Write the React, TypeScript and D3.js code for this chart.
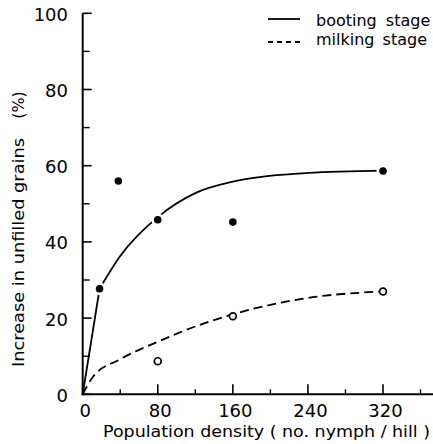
import React from "react";
import * as d3 from "d3";

const xTicksMajor = [0, 80, 160, 240, 320];
const xTicksMinor = [40, 120, 200, 280, 360];
const yTicksMajor = [0, 20, 40, 60, 80, 100];
const yTicksMinor = [10, 30, 50, 70, 90];

// observed points
const bootingX = [18, 38, 80, 160, 320];
const bootingY = [27.7, 56, 45.8, 45.2, 58.6];
const milkingX = [80, 160, 320];
const milkingY = [8.7, 20.5, 27];

// hand-fitted curves
const bootingRiseX = [0, 18];
const bootingRiseY = [0, 27.7];
const bootingFitX = [18, 40, 80, 120, 160, 240, 320];
const bootingFitY = [27.7, 36.3, 46.5, 52.8, 55.8, 58.1, 58.7];
const milkingFitX = [0, 11, 40, 80, 120, 160, 240, 320];
const milkingFitY = [0, 4.6, 9.2, 13.8, 17.8, 21, 25.3, 27];

const legendLabels = ["booting stage", "milking stage"];

const FONT = "'DejaVu Sans', sans-serif";

export default function App() {
  const x = d3.scaleLinear().domain([0, 320]).range([82.7, 383]);
  const y = d3.scaleLinear().domain([0, 100]).range([394.3, 13.3]);

  const line = d3
    .line<[number, number]>()
    .x((d) => x(d[0]))
    .y((d) => y(d[1]))
    .curve(d3.curveMonotoneX);
  const straight = d3
    .line<[number, number]>()
    .x((d) => x(d[0]))
    .y((d) => y(d[1]));

  const zip = (a: number[], b: number[]) => a.map((v, i) => [v, b[i]] as [number, number]);
  const risePath = straight(zip(bootingRiseX, bootingRiseY)) || "";
  const bootingPath = line(zip(bootingFitX, bootingFitY)) || "";
  const milkingPath = line(zip(milkingFitX, milkingFitY)) || "";

  const x0 = x(0);
  const y0 = y(0);

  return (
    <svg
      width={433}
      height={444}
      style={{ position: "absolute", left: 0, top: 0, background: "#fff" }}
      fontFamily={FONT}
    >
      <rect x={0} y={0} width={433} height={444} fill="#fff" />
      {/* axes */}
      <line x1={x0} y1={y(100)} x2={x0} y2={y0 + 1} stroke="#000" strokeWidth={2} />
      <line x1={x0 - 1} y1={y0} x2={433} y2={y0} stroke="#000" strokeWidth={2} />
      {yTicksMajor.map((t) => (
        <line key={"ym" + t} x1={x0} x2={x0 + 9} y1={y(t)} y2={y(t)} stroke="#000" strokeWidth={1.6} />
      ))}
      {yTicksMinor.map((t) => (
        <line key={"yn" + t} x1={x0} x2={x0 + 7} y1={y(t)} y2={y(t)} stroke="#000" strokeWidth={1.4} />
      ))}
      {xTicksMajor.map((t) => (
        <line key={"xm" + t} x1={x(t)} x2={x(t)} y1={y0} y2={y0 - 10} stroke="#000" strokeWidth={1.6} />
      ))}
      {xTicksMinor.map((t) => (
        <line key={"xn" + t} x1={x(t)} x2={x(t)} y1={y0} y2={y0 - 5} stroke="#000" strokeWidth={1.4} />
      ))}
      {yTicksMajor.map((t) => (
        <text key={"yl" + t} x={68} y={y(t) + 1} dy="0.36em" textAnchor="end" fontSize={18}>
          {t}
        </text>
      ))}
      {xTicksMajor.map((t) => (
        <text key={"xl" + t} x={x(t) + 2.5} y={417} textAnchor="middle" fontSize={18}>
          {t}
        </text>
      ))}
      <text x={103} y={437} fontSize={16} textLength={327} lengthAdjust="spacingAndGlyphs">
        Population density ( no. nymph / hill )
      </text>
      <g transform="translate(24,367) rotate(-90)">
        <text x={0} y={0} fontSize={16} textLength={229} lengthAdjust="spacingAndGlyphs">
          Increase in unfilled grains
        </text>
      </g>
      <g transform="translate(24,105) rotate(-90)">
        <text x={0} y={0} fontSize={16} textAnchor="middle">
          (%)
        </text>
      </g>

      {/* curves */}
      <path d={risePath} fill="none" stroke="#000" strokeWidth={1.8} />
      <path d={bootingPath} fill="none" stroke="#000" strokeWidth={1.8} />
      <path d={milkingPath} fill="none" stroke="#000" strokeWidth={1.8} strokeDasharray="9,5" />

      {/* markers */}
      {bootingX.map((v, i) => (
        <g key={"b" + i}>
          <circle cx={x(v)} cy={y(bootingY[i])} r={6.5} fill="#fff" />
          <circle cx={x(v)} cy={y(bootingY[i])} r={3.8} fill="#000" />
        </g>
      ))}
      {milkingX.map((v, i) => (
        <circle key={"m" + i} cx={x(v)} cy={y(milkingY[i])} r={3.4} fill="#fff" stroke="#000" strokeWidth={1.7} />
      ))}

      {/* legend */}
      <line x1={268} x2={300} y1={19} y2={19} stroke="#000" strokeWidth={1.8} />
      <line x1={268} x2={302} y1={42} y2={42} stroke="#000" strokeWidth={1.8} strokeDasharray="5,4" />
      <text x={316} y={26} fontSize={16} wordSpacing={4}>{legendLabels[0]}</text>
      <text x={316} y={45} fontSize={16} wordSpacing={3}>{legendLabels[1]}</text>
    </svg>
  );
}
